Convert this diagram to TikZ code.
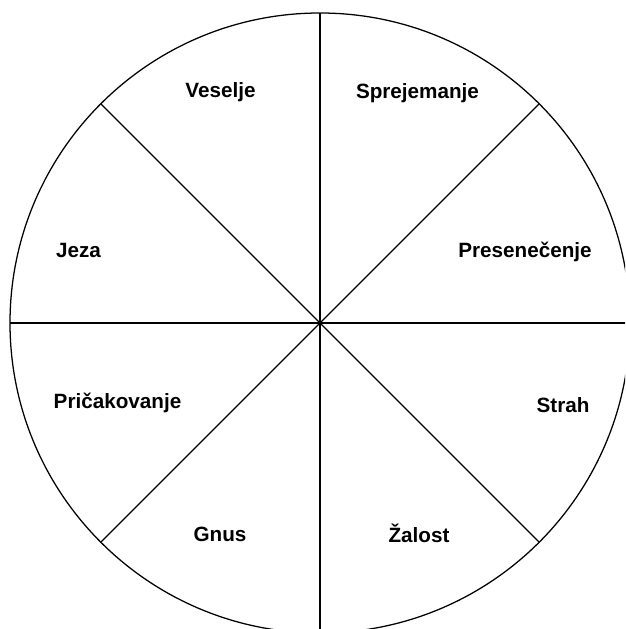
\documentclass[tikz,border=0pt]{standalone}
\usepackage{fontspec}
\setmainfont{Liberation Sans}
\usetikzlibrary{positioning}
\tikzset{
  wheelline/.style={line width=0.9pt, black},
  emolabel/.style={font=\bfseries\fontsize{14.7}{17}\selectfont, anchor=base, inner sep=0pt}
}

\begin{document}
\begin{tikzpicture}[x=0.025cm, y=-0.025cm]
  \useasboundingbox (0,0) rectangle (625,629);
  \clip (0,0) rectangle (625,629);
  \coordinate (c) at (320,323);
  \draw[wheelline] (c) circle[radius=310];
  \draw[wheelline] (c) -- ++(0,-310);
  \draw[wheelline] (c) -- ++(0,310);
  \draw[wheelline] (c) -- ++(-310,0);
  \draw[wheelline] (c) -- ++(310,0);
  \draw[wheelline] (c) -- ++(219.2,-219.2);
  \draw[wheelline] (c) -- ++(-219.2,-219.2);
  \draw[wheelline] (c) -- ++(219.2,219.2);
  \draw[wheelline] (c) -- ++(-219.2,219.2);
  \node[emolabel] (veselje) at (220.5,98) {Veselje};
  \node[emolabel] (sprejemanje) at (417.5,99) {Sprejemanje};
  \node[emolabel] (jeza) at (78.5,257) {Jeza};
  \node[emolabel] (presenecenje) at (525,257) {Presenečenje};
  \node[emolabel] (pricakovanje) at (117.5,408) {Pričakovanje};
  \node[emolabel] (strah) at (563,412) {Strah};
  \node[emolabel] (gnus) at (220,541) {Gnus};
  \node[emolabel] (zalost) at (419,542) {Žalost};
\end{tikzpicture}
\end{document}
